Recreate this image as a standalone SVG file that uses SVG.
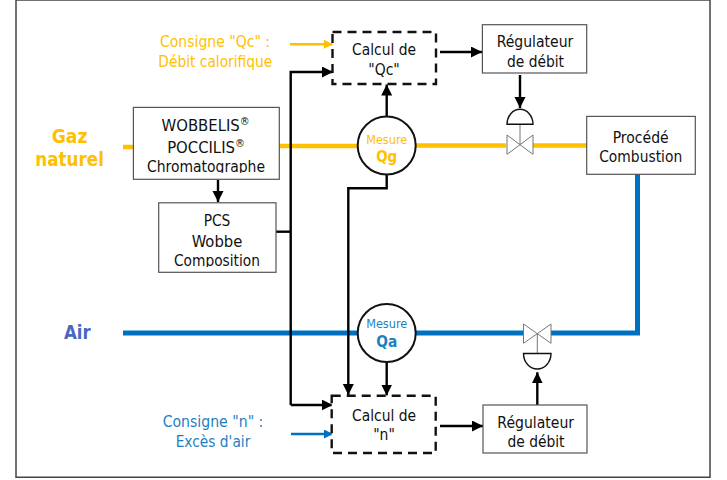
<svg xmlns="http://www.w3.org/2000/svg" width="727" height="480" viewBox="0 0 727 480">
<style>
text{font-family:"DejaVu Sans Condensed","DejaVu Sans",sans-serif;font-stretch:condensed;font-size:15.500px;fill:#111;text-anchor:middle}
.box{fill:#fff;stroke:#555;stroke-width:1.2}
.dash{fill:#fff;stroke:#111;stroke-width:2.4;stroke-dasharray:9 6}
.gas{fill:none;stroke:#ffc000;stroke-width:4.5}
.air{fill:none;stroke:#0070c0;stroke-width:5}
.sig{fill:none;stroke:#000;stroke-width:2.4}
.valve{fill:#fff;stroke:#777;stroke-width:1}
.act{fill:#fff;stroke:#111;stroke-width:1.4}
.meter{fill:#fff;stroke:#111;stroke-width:2}
.y{fill:#ffc000}
.b{fill:#1f7fc0}
.big{font-weight:700;font-size:19.500px}
.sm{font-size:12.500px}
.v{font-weight:700;font-size:16.500px}
.lg{font-size:16.500px}
</style>
<defs>
<marker id="ah" markerUnits="userSpaceOnUse" markerWidth="12" markerHeight="12" refX="11" refY="5.500" orient="auto"><path d="M0 0L11 5.500L0 11z" fill="#000"/></marker>
<marker id="ay" markerUnits="userSpaceOnUse" markerWidth="10" markerHeight="10" refX="9" refY="4.500" orient="auto"><path d="M0 0L9 4.500L0 9z" fill="#ffc000"/></marker>
<marker id="ab" markerUnits="userSpaceOnUse" markerWidth="10" markerHeight="10" refX="9" refY="4.500" orient="auto"><path d="M0 0L9 4.500L0 9z" fill="#0070c0"/></marker>
<clipPath id="clip-analyseur"><rect x="133" y="107" width="147" height="66"/></clipPath>
<clipPath id="clip-pcs"><rect x="158" y="203" width="118" height="64"/></clipPath>
</defs>
<g id="cadre"><path d="M16 0V477.300H710V0H16" fill="#fff" stroke="#444" stroke-width="1.500"/></g>
<g id="connectors">
<path class="gas" d="M123 147H134M278 146H358M416 145.500H506M533 145.500H587"/>
<path class="air" d="M123 333H358M416 333H523M551 333H637.500V174"/>
<path class="sig" d="M290.700 405V72H333" marker-end="url(#ah)"/>
<path class="sig" d="M290.700 405H332.700" marker-end="url(#ah)"/>
<path class="sig" d="M276 231.700H290.700"/>
<path class="sig" d="M218 180V202" marker-end="url(#ah)"/>
<path class="sig" d="M386.700 116V84.500" marker-end="url(#ah)"/>
<path class="sig" d="M386.700 174V188.300H348.300V395" marker-end="url(#ah)"/>
<path class="sig" d="M386.700 362V395.500" marker-end="url(#ah)"/>
<path class="sig" d="M440 52H482" marker-end="url(#ah)"/>
<path class="sig" d="M520 75V108" marker-end="url(#ah)"/>
<path class="sig" d="M440 426H483" marker-end="url(#ah)"/>
<path class="sig" d="M537.300 405V372.300" marker-end="url(#ah)"/>
<path fill="none" stroke="#ffc000" stroke-width="2.500" d="M290 44.300H333" marker-end="url(#ay)"/>
<path fill="none" stroke="#0070c0" stroke-width="2.500" d="M291 434H333" marker-end="url(#ab)"/>
</g>
<g id="calc-qc"><rect class="dash" x="332.500" y="32" width="103.500" height="52"/><text x="384" y="55" textLength="64" lengthAdjust="spacingAndGlyphs">Calcul de</text><text x="384" y="75">"Qc"</text></g>
<g id="calc-n"><rect class="dash" x="331.700" y="395.700" width="104" height="57.300"/><text x="384" y="421" textLength="64" lengthAdjust="spacingAndGlyphs">Calcul de</text><text x="384" y="440">"n"</text></g>
<g id="regulateur-gaz"><rect class="box" x="482.400" y="24.700" width="104.300" height="48.300"/><text x="535" y="47" textLength="76.700" lengthAdjust="spacingAndGlyphs">Régulateur</text><text x="535.500" y="66.700" textLength="57" lengthAdjust="spacingAndGlyphs">de débit</text></g>
<g id="regulateur-air"><rect class="box" x="483" y="405" width="104" height="48"/><text x="535.700" y="428" textLength="76.700" lengthAdjust="spacingAndGlyphs">Régulateur</text><text x="536" y="447" textLength="57" lengthAdjust="spacingAndGlyphs">de débit</text></g>
<g id="procede"><rect class="box" x="586.700" y="116.400" width="108.600" height="57.900"/><text x="640.700" y="142.700" textLength="56" lengthAdjust="spacingAndGlyphs">Procédé</text><text x="640.700" y="161.700" textLength="83" lengthAdjust="spacingAndGlyphs">Combustion</text></g>
<g id="analyseur"><rect class="box" x="133.400" y="107.400" width="145.900" height="71.900"/><g clip-path="url(#clip-analyseur)"><text class="lg" x="205.600" y="131">WOBBELIS<tspan dy="-6" font-size="11">®</tspan></text><text class="lg" x="206" y="152.700">POCCILIS<tspan dy="-6" font-size="11">®</tspan></text><text x="206" y="171.700" textLength="118" lengthAdjust="spacingAndGlyphs">Chromatographe</text></g></g>
<g id="pcs"><rect class="box" x="158.700" y="202.800" width="117.300" height="69.500"/><g clip-path="url(#clip-pcs)"><text x="217" y="226" textLength="26.700" lengthAdjust="spacingAndGlyphs">PCS</text><text x="217" y="246.500" textLength="50.700" lengthAdjust="spacingAndGlyphs">Wobbe</text><text x="217" y="266" textLength="86" lengthAdjust="spacingAndGlyphs">Composition</text></g></g>
<g id="mesure-qg"><circle class="meter" cx="386.700" cy="145.500" r="29"/><text class="y sm" x="386.700" y="144" textLength="41" lengthAdjust="spacingAndGlyphs">Mesure</text><text class="y v" x="386.700" y="161.700" textLength="21" lengthAdjust="spacingAndGlyphs">Qg</text></g>
<g id="mesure-qa"><circle class="meter" cx="386.700" cy="333" r="29"/><text class="b sm" x="386.700" y="328" textLength="41" lengthAdjust="spacingAndGlyphs">Mesure</text><text class="b v" x="386.700" y="347" textLength="21" lengthAdjust="spacingAndGlyphs">Qa</text></g>
<g id="vanne-gaz"><path class="valve" d="M520 124V145M507 135L533 154.300V135L507 154.300z"/><path class="act" d="M507 124.300a13 15 0 0 1 26 0z"/></g>
<g id="vanne-air"><path class="valve" d="M537.300 333.500V353.500M523.500 324L551 343.300V324L523.500 343.300z"/><path class="act" d="M523.500 353.500a13.700 15.500 0 0 0 27.500 0z"/></g>
<g id="labels">
<text class="y big" x="69.600" y="143.300" textLength="35.700" lengthAdjust="spacingAndGlyphs">Gaz</text><text class="y big" x="69.600" y="166" textLength="68.700" lengthAdjust="spacingAndGlyphs">naturel</text>
<text class="big" x="77.300" y="338.700" textLength="26.700" lengthAdjust="spacingAndGlyphs" style="fill:#4a66c4">Air</text>
<text class="y" x="215" y="47" textLength="110" lengthAdjust="spacingAndGlyphs">Consigne "Qc" :</text><text class="y" x="215.300" y="66.500" textLength="114" lengthAdjust="spacingAndGlyphs">Débit calorifique</text>
<text class="b" x="213" y="427" textLength="100.700" lengthAdjust="spacingAndGlyphs">Consigne "n" :</text><text class="b" x="213" y="446.500" textLength="74.700" lengthAdjust="spacingAndGlyphs">Excès d'air</text>
</g>
</svg>
